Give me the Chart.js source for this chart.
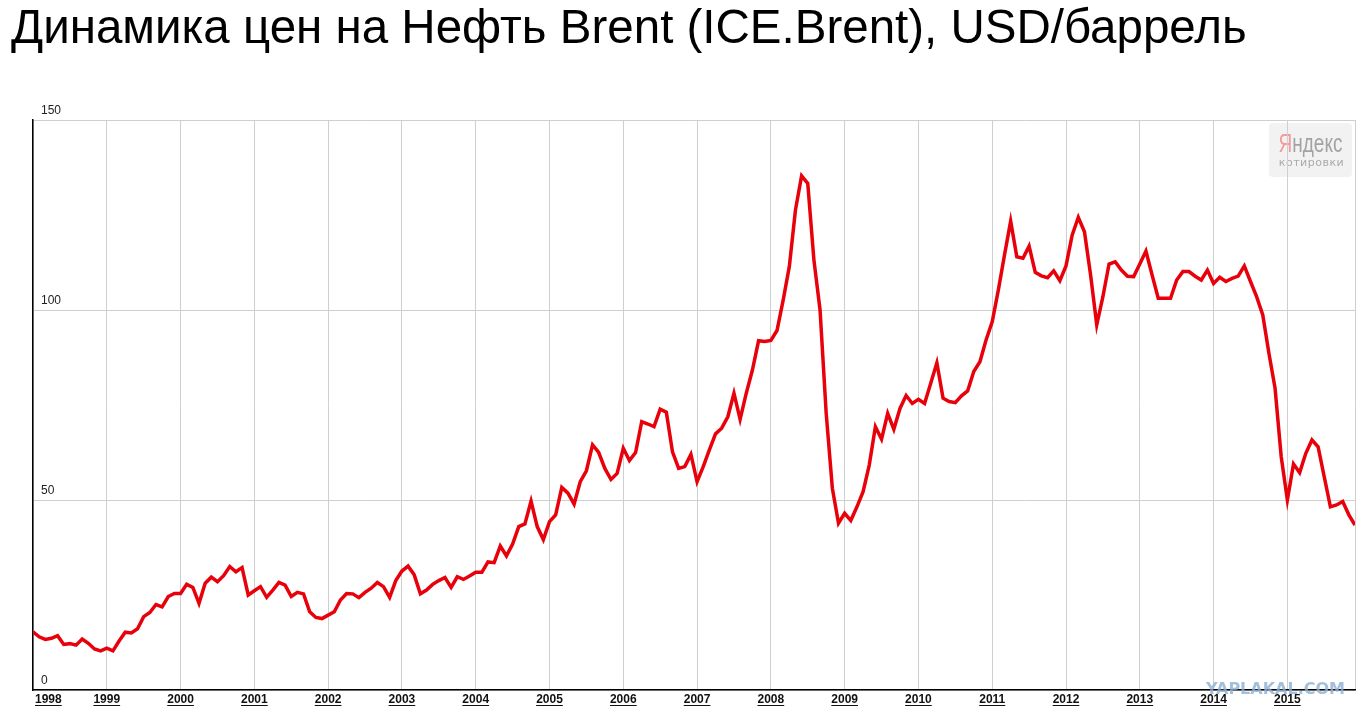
<!DOCTYPE html>
<html lang="ru">
<head>
<meta charset="utf-8">
<title>Нефть Brent</title>
<script src="https://cdn.jsdelivr.net/npm/chart.js@4/dist/chart.umd.min.js"></script>
<style>
  html, body { margin: 0; padding: 0; background: #fff; }
  #wrap { position: relative; width: 1372px; height: 719px; overflow: hidden; }
  #title {
    position: absolute; left: 11px; top: -1px; margin: 0; line-height: 1;
    font: 47.5px "Liberation Sans", Arial, sans-serif; font-weight: normal; color: #000; white-space: nowrap;
  }
  #chart { position: absolute; left: 0; top: 0; }
</style>
</head>
<body>
<div id="wrap">
  <canvas id="chart" width="1372" height="719"></canvas>
  <h1 id="title">Динамика цен на Нефть Brent (ICE.Brent), USD/баррель</h1>
</div>
<script>
// подписи оси X (годы) и оси Y
const YEARS = ['1998','1999','2000','2001','2002','2003','2004','2005','2006',
  '2007','2008','2009','2010','2011','2012','2013','2014','2015'];
const Y_TICKS = [0, 50, 100, 150];

// среднемесячная цена, USD/баррель (январь..декабрь)
const P1998 = [15.3, 14.0, 13.3, 13.6, 14.3, 12.0, 12.2, 11.8, 13.4, 12.3, 10.8, 10.3];
const P1999 = [11.0, 10.3, 12.9, 15.2, 15.0, 16.1, 19.3, 20.4, 22.5, 21.9, 24.6, 25.4];
const P2000 = [25.4, 27.8, 27.0, 22.8, 28.1, 29.7, 28.5, 30.1, 32.5, 31.1, 32.2, 25.0];
const P2001 = [26.1, 27.2, 24.4, 26.3, 28.3, 27.6, 24.6, 25.7, 25.3, 20.6, 19.1, 18.8];
const P2002 = [19.7, 20.6, 23.7, 25.4, 25.3, 24.3, 25.7, 26.8, 28.3, 27.2, 24.4, 28.8];
const P2003 = [31.3, 32.6, 30.3, 25.3, 26.3, 27.8, 28.8, 29.6, 27.0, 29.8, 29.1, 30.0];
const P2004 = [31.0, 31.0, 33.7, 33.5, 37.9, 35.3, 38.4, 43.0, 43.7, 49.7, 43.0, 39.6];
const P2005 = [44.3, 46.1, 53.3, 51.8, 48.9, 54.8, 57.7, 64.5, 62.5, 58.3, 55.4, 57.0];
const P2006 = [63.6, 60.4, 62.5, 70.6, 70.0, 69.3, 73.9, 73.1, 62.7, 58.3, 58.8, 62.0];
const P2007 = [54.8, 58.8, 63.2, 67.4, 68.9, 71.9, 78.1, 71.2, 78.1, 84.2, 91.9, 91.7];
const P2008 = [92.0, 94.6, 102.6, 111.4, 126.3, 135.3, 133.3, 113.2, 100.0, 72.8, 53.1, 43.9];
const P2009 = [46.5, 44.6, 48.2, 52.2, 59.2, 69.3, 66.0, 72.8, 68.6, 74.1, 77.5, 75.4];
const P2010 = [76.5, 75.4, 80.7, 86.1, 76.8, 75.9, 75.6, 77.4, 78.7, 83.8, 86.4, 92.1];
const P2011 = [96.9, 105.3, 114.5, 123.4, 114.0, 113.6, 116.8, 109.9, 109.0, 108.5, 110.3, 107.7];
const P2012 = [111.6, 119.7, 124.4, 120.6, 109.2, 96.1, 103.5, 112.1, 112.7, 110.5, 108.9, 108.8];
const P2013 = [112.1, 115.5, 109.2, 103.1, 103.1, 103.1, 107.9, 110.1, 110.1, 108.9, 107.9, 110.5];
const P2014 = [107.0, 108.6, 107.5, 108.3, 108.9, 111.6, 107.5, 103.5, 98.7, 88.6, 79.4, 61.4];
const P2015 = [50.0, 59.5, 57.2, 62.3, 65.8, 64.0, 56.1, 48.2, 48.7, 49.6, 46.1, 43.4];

const PRICES = [P1998, P1999, P2000, P2001, P2002, P2003, P2004, P2005, P2006,
  P2007, P2008, P2009, P2010, P2011, P2012, P2013, P2014, P2015].flat();
const LAST = PRICES.length - 1;

// подложка: логотип Яндекс.Котировок (под сеткой)
const logoPlugin = {
  id: 'logo',
  beforeDraw(chart) {
    const { ctx, chartArea: a } = chart;
    ctx.save();
    ctx.fillStyle = '#fff';
    ctx.fillRect(0, 0, chart.width, chart.height);
    const x = a.right - 86, y = a.top + 3, w = 83, h = 54;
    ctx.fillStyle = '#f2f2f2';
    ctx.beginPath();
    ctx.roundRect(x, y, w, h, 4);
    ctx.fill();
    // узкое начертание: сжимаем по горизонтали
    ctx.save();
    ctx.font = '25px "Liberation Sans", Arial, sans-serif';
    const k = 0.76;
    const w1 = ctx.measureText('Я').width;
    const w2 = ctx.measureText('ндекс').width;
    ctx.translate(x + (w - (w1 + w2) * k) / 2, y + 29);
    ctx.scale(k, 1);
    ctx.fillStyle = '#f29a9a';
    ctx.fillText('Я', 0, 0);
    ctx.fillStyle = '#a3a3a3';
    ctx.fillText('ндекс', w1, 0);
    ctx.restore();
    ctx.font = '11px "DejaVu Sans", sans-serif';
    ctx.letterSpacing = '0.5px';
    ctx.textAlign = 'center';
    ctx.fillStyle = '#aaaaaa';
    ctx.fillText('котировки', x + w / 2 + 1, y + 43);
    ctx.restore();
  },
  afterDraw(chart) {
    const { ctx, chartArea: a, scales } = chart;
    ctx.save();
    // подписи оси Y внутри области графика
    ctx.font = '12px "Liberation Sans", Arial, sans-serif';
    ctx.fillStyle = '#222';
    ctx.textAlign = 'left';
    ctx.textBaseline = 'middle';
    Y_TICKS.forEach(v => ctx.fillText(String(v), a.left + 8, scales.y.getPixelForValue(v) - 9));
    // годы, жирные и подчёркнутые
    ctx.font = 'bold 12px "Liberation Sans", Arial, sans-serif';
    ctx.fillStyle = '#111';
    ctx.strokeStyle = '#111';
    ctx.lineWidth = 1;
    ctx.textBaseline = 'alphabetic';
    YEARS.forEach((yr, i) => {
      const w = ctx.measureText(yr).width;
      let cx = scales.x.getPixelForValue(i * 12) - w / 2;
      if (cx < a.left + 2) cx = a.left + 2;
      const by = a.bottom + 13;
      ctx.fillText(yr, cx, by);
      ctx.beginPath();
      ctx.moveTo(cx, by + 2.5);
      ctx.lineTo(cx + w, by + 2.5);
      ctx.stroke();
    });
    // водяной знак
    ctx.font = 'bold 16px "DejaVu Sans", Verdana, sans-serif';
    ctx.textAlign = 'right';
    ctx.textBaseline = 'middle';
    ctx.fillStyle = 'rgba(140,175,210,0.8)';
    ctx.fillText('YAPLAKAL.COM', a.right - 10, a.bottom);
    ctx.restore();
  },
};

new Chart(document.getElementById('chart'), {
  type: 'line',
  data: {
    datasets: [{
      data: PRICES.map((v, i) => ({ x: i, y: v })),
      borderColor: '#e8000b',
      borderWidth: 3.5,
      pointRadius: 0,
      tension: 0,
      fill: false,
    }],
  },
  options: {
    responsive: false,
    animation: false,
    layout: { padding: { left: 33, right: 17, top: 120, bottom: 29 } },
    plugins: { legend: { display: false }, tooltip: { enabled: false } },
    scales: {
      x: {
        type: 'linear',
        min: 0,
        max: LAST,
        afterBuildTicks: s => {
          s.ticks = YEARS.map((_, i) => ({ value: i * 12 })).concat([{ value: LAST }]);
        },
        afterFit: s => { s.height = 0; },
        ticks: { display: false },
        grid: { color: '#cfcfcf', lineWidth: 1, drawTicks: false },
        border: { color: '#000', width: 1.5 },
      },
      y: {
        min: 0,
        max: 150,
        afterBuildTicks: s => { s.ticks = Y_TICKS.map(v => ({ value: v })); },
        afterFit: s => { s.width = 0; },
        ticks: { display: false },
        grid: { color: '#cfcfcf', lineWidth: 1, drawTicks: false },
        border: { color: '#000', width: 1.5 },
      },
    },
  },
  plugins: [logoPlugin],
});
</script>
</body>
</html>
